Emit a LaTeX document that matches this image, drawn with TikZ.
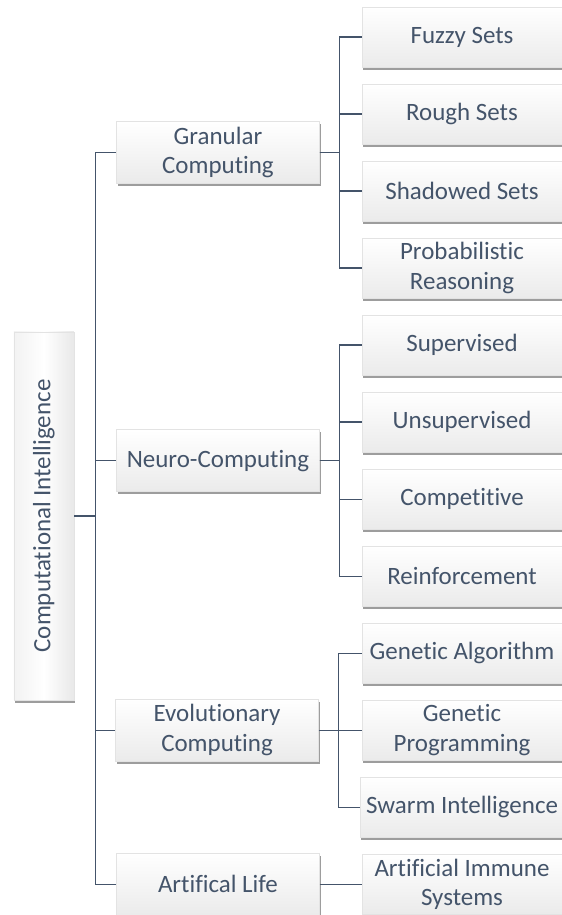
\documentclass[tikz,border=0pt]{standalone}
\usepackage{fontspec}
\setmainfont{Carlito}[Ligatures=NoCommon]
\usepackage{graphicx}
\usepackage{tikz}
\usetikzlibrary{positioning,calc,shadows}
\usepackage{xcolor}
\definecolor{slate}{HTML}{44546A}

\begin{document}
\begin{tikzpicture}[
    every node/.style={font=\fontsize{14.2}{17}\selectfont, text=slate},
    tile/.style={rectangle, draw=gray!22, line width=0.3pt, align=center,
                 inner ysep=1.5pt, top color=white, bottom color=gray!16,
                 drop shadow={shadow xshift=0.6pt, shadow yshift=-1.6pt, opacity=0.55, fill=black!70}},
    rootbox/.style={tile, left color=gray!10, right color=gray!18, middle color=white,
                    minimum width=1.2cm, minimum height=7.36cm},
    catbox/.style={tile, minimum width=4.06cm, minimum height=1.24cm},
    leafbox/.style={tile, minimum width=4.0cm, minimum height=1.2cm},
    link/.style={draw=slate, line width=0.75pt}
]
\useasboundingbox (0,0) rectangle (11.22,-18.3);

% ============ LEAVES (RIGHT COLUMN) ============
\node[leafbox] at (9.24,-0.74) (fuzzy) {Fuzzy Sets};
\node[leafbox, below=0.33cm of fuzzy] (rough) {Rough Sets};
\node[leafbox, below=0.33cm of rough] (shadowed) {Shadowed Sets};
\node[leafbox, below=0.33cm of shadowed] (prob) {Probabilistic\\Reasoning};
\node[leafbox, below=0.33cm of prob] (superv) {Supervised};
\node[leafbox, below=0.33cm of superv] (unsuperv) {Unsupervised};
\node[leafbox, below=0.33cm of unsuperv] (compet) {Competitive};
\node[leafbox, below=0.33cm of compet] (reinf) {Reinforcement};
\node[leafbox, below=0.33cm of reinf] (genalg) {Genetic Algorithm};
\node[leafbox, below=0.33cm of genalg] (genprog) {Genetic\\Programming};
\node[leafbox, below=0.33cm of genprog] (swarm) {Swarm Intelligence};
\node[leafbox, below=0.33cm of swarm] (immune) {Artificial Immune\\Systems};

% ============ CATEGORIES (MIDDLE COLUMN) ============
\node[catbox, left=0.84cm of {$(fuzzy.west)!0.5!(prob.west)$}] (gran) {Granular\\Computing};
\node[catbox, left=0.84cm of {$(superv.west)!0.5!(reinf.west)$}] (neuro) {Neuro-Computing};
\node[catbox, left=0.84cm of {$(genalg.west)!0.5!(swarm.west)$}] (evol) {Evolutionary\\Computing};
\node[catbox, left=0.84cm of immune] (alife) {Artifical Life};

% ============ ROOT ============
\node[rootbox, left=0.84cm of {$(gran.west)!0.5!(alife.west) + (0,0.05)$}] (ci)
    {\rotatebox{90}{Computational Intelligence}};

% Connectors
\foreach \cat in {gran,neuro,evol,alife}
    \draw[link] (ci.east) -- ++(0.42,0) |- (\cat.west);
\foreach \leaf in {fuzzy,rough,shadowed,prob}
    \draw[link] (gran.east) -- ++(0.4,0) |- (\leaf.west);
\foreach \leaf in {superv,unsuperv,compet,reinf}
    \draw[link] (neuro.east) -- ++(0.4,0) |- (\leaf.west);
\foreach \leaf in {genalg,genprog,swarm}
    \draw[link] (evol.east) -- ++(0.4,0) |- (\leaf.west);
\draw[link] (alife.east) -- (immune.west);

\end{tikzpicture}
\end{document}
